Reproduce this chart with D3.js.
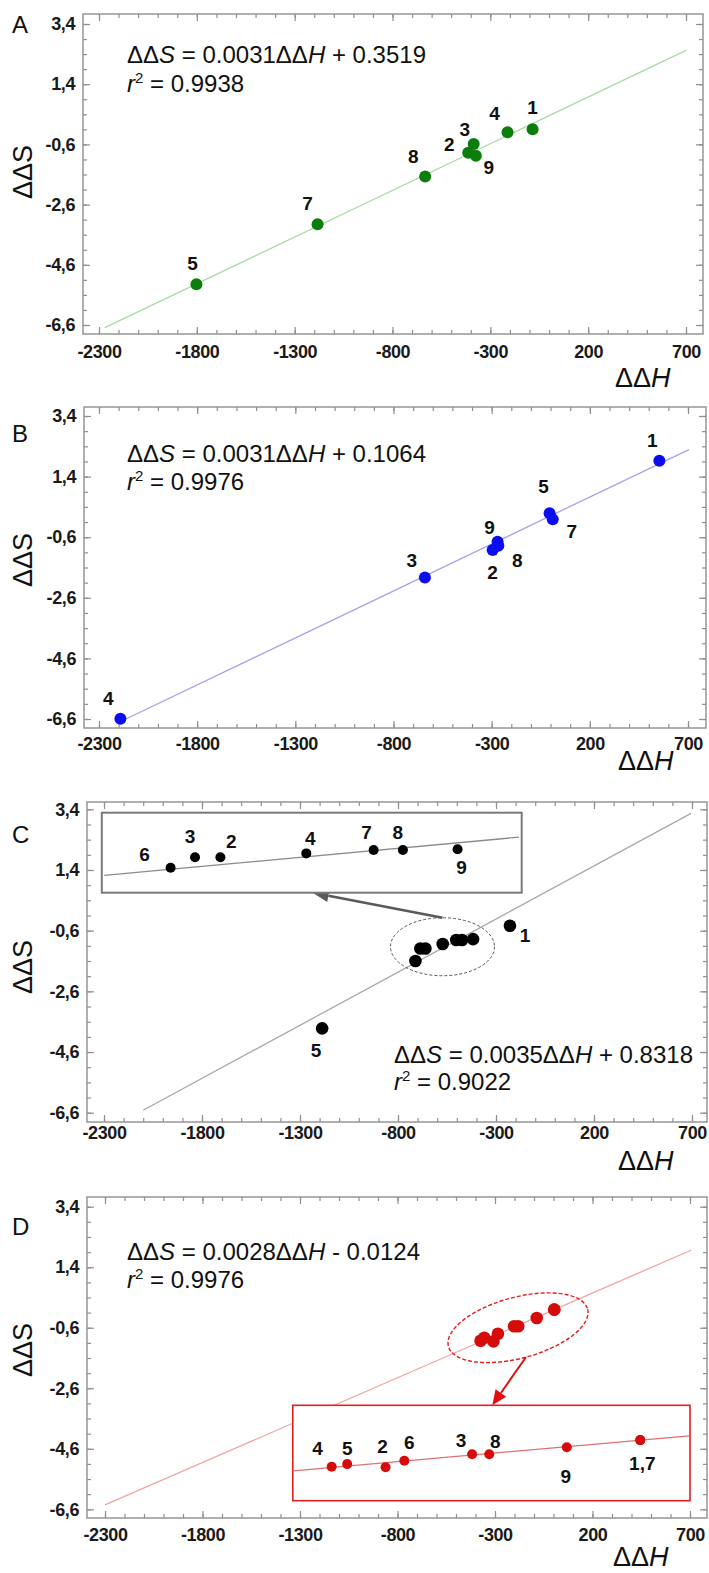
<!DOCTYPE html>
<html>
<head>
<meta charset="utf-8">
<script src="https://cdn.jsdelivr.net/npm/d3@7"></script>
<style>
body { margin: 0; background: #fff; }
svg { display: block; font-family: "Liberation Sans", Arial, sans-serif; }
</style>
</head>
<body>
<svg id="chart"></svg>
<script>
// ---- data ----
var xTicks = [-2300, -1800, -1300, -800, -300, 200, 700];
var yTicks = [3.4, 1.4, -0.6, -2.6, -4.6, -6.6];

var aLabels = ["1", "2", "3", "4", "5", "7", "8", "9"];
var aDH = [-84, -413, -385, -212, -1802, -1183, -633, -374];
var aDS = [-0.10, -0.88, -0.59, -0.20, -5.25, -3.25, -1.67, -0.98];

var bLabels = ["1", "2", "3", "4", "5", "7", "8", "9"];
var bDH = [554, -295, -640, -2191, -5, 11, -266, -270];
var bDS = [1.92, -1.02, -1.93, -6.59, 0.19, -0.01, -0.88, -0.75];

var cLabels = ["1", "2", "3", "4", "5", "6", "7", "8", "9"];
var cDH = [-229, -660, -686, -572, -1187, -711, -503, -473, -417];
var cDS = [-0.44, -1.19, -1.19, -1.04, -3.82, -1.60, -0.91, -0.91, -0.88];

var dLabels = ["1", "2", "3", "4", "5", "6", "7", "8", "9"];
var dDH = [4, -308, -202, -374, -355, -285, 4, -181, -86];
var dDS = [0.00, -1.05, -0.55, -1.03, -0.93, -0.80, 0.00, -0.55, -0.28];
var dInsetText = ["1,7", "2", "3", "4", "5", "6", "", "8", "9"];

var panelNames = ["A", "B", "C", "D"];
var slopes = [0.0031, 0.0031, 0.0035, 0.0028];
var intercepts = [0.3519, 0.1064, 0.8318, -0.0124];
var r2s = [0.9938, 0.9976, 0.9022, 0.9976];
var fitFrom = [-2270, -2195, -2100, -2300];
var fitTo = [700, 705, 695, 705];

// ---- layout ----
var W = 709, H = 1573;
var svg = d3.select("#chart").attr("width", W).attr("height", H);

var frameCol = "#8f8f8f";
var tickFont = 18;

var layouts = [
  { frame: [83, 14, 703, 334], xr: [99, 686], yr: [24, 325], pad: 11,
    pt: "#0a7d0a", ln: "#a8dba3", r: 6,
    eq: [127, 63, 92], letter: 33, ylab: 172, xlab: [615, 387],
    off: { "1": [0, -22], "4": [-13, -19], "3": [-9, -15], "2": [-19, -9], "9": [13, 11],
           "8": [-12, -21], "7": [-10, -21], "5": [-4, -21] } },
  { frame: [84, 407, 706, 728], xr: [99, 688], yr: [416, 719], pad: 9,
    pt: "#0c0cf0", ln: "#a3a3ee", r: 6,
    eq: [127, 462, 490], letter: 442, ylab: 560, xlab: [618, 770],
    off: { "1": [-7, -21], "5": [-6, -27], "7": [19, 12], "9": [-8, -15], "8": [19, 14],
           "2": [0, 22], "3": [-13, -17], "4": [-12, -21] } },
  { frame: [87, 802, 707, 1122], xr: [104, 692], yr: [809.3, 1112.7], pad: 4,
    pt: "#000", ln: "#a8a8a8", r: 6.3,
    eq: [394, 1063, 1090], letter: 843, ylab: 967, xlab: [618, 1170],
    off: { "1": [15, 9], "5": [-6, 22] } },
  { frame: [87, 1197, 707, 1518], xr: [105, 690], yr: [1206.7, 1509.3], pad: 10,
    pt: "#d60c0c", ln: "#f2a5a5", r: 6.3,
    eq: [127, 1260, 1288], letter: 1235, ylab: 1350, xlab: [613, 1566],
    off: {} }
];

var insets = [
  null, null,
  { rect: [101.8, 812.7, 521.7, 892.7], xd: [-781.5, -351.3], yd: [-2.573, 0.546], line: [-779, -354],
    members: ["2", "3", "4", "6", "7", "8", "9"], border: "#7a7a7a", bw: 2, r: 5, lineCol: "#8a8a8a",
    off: { "6": [-26, -14], "3": [-5, -21], "2": [11, -16], "4": [4, -15], "7": [-7, -18],
           "8": [-5, -18], "9": [4, 18] },
    ellipse: { c: [-573, -1.13], rx: 52, ry: 29, rot: 0, col: "#555", w: 1, dash: "3,2" },
    arrow: { tip: [312.7, 892.7], col: "#5a5a5a", w: 2.5, head: [16, 6.5], from: -1 } },
  { rect: [292.8, 1405.3, 690, 1500.7], xd: [-421.6, 64.9], yd: [-2.349, 1.349], line: [-421, 64],
    members: dLabels, border: "#e02020", bw: 1.6, r: 5, lineCol: "#e07070", text: dInsetText,
    off: { "4": [-14, -19], "5": [0, -16], "2": [-3, -21], "6": [5, -19], "3": [-11, -14],
           "8": [6, -13], "9": [-1, 29], "1": [2, 23] },
    ellipse: { c: [-182, -0.6], rx: 72, ry: 30.5, rot: -15, col: "#e02020", w: 1.4, dash: "4,2" },
    arrow: { tip: [492.3, 1405.3], col: "#e01010", w: 2, head: [15, 6.5], from: 1 } }
];

var datasets = [
  { labels: aLabels, dh: aDH, ds: aDS },
  { labels: bLabels, dh: bDH, ds: bDS },
  { labels: cLabels, dh: cDH, ds: cDS },
  { labels: dLabels, dh: dDH, ds: dDS }
];

var xMinor = d3.range(0, 31).map(function(i) { return -2300 + i * 100; });
var yMinor = d3.range(0, 21).map(function(i) { return +(-6.6 + i * 0.5).toFixed(1); });

function fmtY(d) { return d.toFixed(1).replace(".", ","); }

function styleAxis(sel) {
  sel.select(".domain").remove();
  sel.selectAll("line").attr("stroke", frameCol).attr("stroke-width", 1.2);
  sel.selectAll("text").attr("font-size", tickFont).attr("font-weight", "bold")
    .attr("fill", "#1a1a1a").attr("font-family", "Liberation Sans, Arial, sans-serif")
    .attr("letter-spacing", -0.4);
}

function equation(g, x, y1, y2, i) {
  var t = g.append("text").attr("x", x).attr("y", y1).attr("font-size", 24).attr("fill", "#111");
  var sign = intercepts[i] < 0 ? " - " : " + ";
  t.append("tspan").text("ΔΔ");
  t.append("tspan").attr("font-style", "italic").text("S");
  t.append("tspan").text(" = " + slopes[i].toFixed(4) + "ΔΔ");
  t.append("tspan").attr("font-style", "italic").text("H");
  t.append("tspan").text(sign + Math.abs(intercepts[i]).toFixed(4));

  var t2 = g.append("text").attr("x", x).attr("y", y2).attr("font-size", 24).attr("fill", "#111");
  t2.append("tspan").attr("font-style", "italic").text("r");
  t2.append("tspan").attr("font-size", 15).attr("dy", -9).text("2");
  t2.append("tspan").attr("dy", 9).text(" = " + r2s[i].toFixed(4));
}

function drawPoints(g, pts, xs, ys, r, col) {
  g.selectAll(null).data(pts).enter().append("circle")
    .attr("cx", function(d) { return xs(d.dh); })
    .attr("cy", function(d) { return ys(d.ds); })
    .attr("r", r)
    .attr("fill", col);
}

function drawLabels(g, pts, xs, ys, off, textOf) {
  g.selectAll(null).data(pts.filter(function(d) { return off[d.label] && textOf(d) !== ""; }))
    .enter().append("text")
    .attr("x", function(d) { return xs(d.dh) + off[d.label][0]; })
    .attr("y", function(d) { return ys(d.ds) + off[d.label][1] + 7; })
    .attr("text-anchor", "middle")
    .attr("font-size", 19).attr("font-weight", "bold").attr("fill", "#111")
    .text(textOf);
}

function arrow(g, tail, tip, a) {
  var dx = tip[0] - tail[0], dy = tip[1] - tail[1];
  var len = Math.sqrt(dx * dx + dy * dy), ux = dx / len, uy = dy / len;
  var L = a.head[0], hw = a.head[1];
  var bx = tip[0] - ux * L, by = tip[1] - uy * L;
  g.append("line").attr("x1", tail[0]).attr("y1", tail[1]).attr("x2", bx).attr("y2", by)
    .attr("stroke", a.col).attr("stroke-width", a.w);
  g.append("path")
    .attr("d", "M" + tip[0] + "," + tip[1] +
      "L" + (bx - uy * hw) + "," + (by + ux * hw) +
      "L" + (bx + uy * hw) + "," + (by - ux * hw) + "Z")
    .attr("fill", a.col);
}

layouts.forEach(function(L, i) {
  var g = svg.append("g");
  var f = L.frame;
  var x = d3.scaleLinear().domain([-2300, 700]).range(L.xr);
  var y = d3.scaleLinear().domain([3.4, -6.6]).range(L.yr);
  var ds = datasets[i];
  var pts = ds.labels.map(function(l, k) { return { label: l, dh: ds.dh[k], ds: ds.ds[k], k: k }; });

  // ticks, all pointing inward
  g.append("g").attr("transform", "translate(0," + f[3] + ")")
    .call(d3.axisBottom(x).tickValues(xMinor).tickSize(-4).tickFormat("")).call(styleAxis);
  g.append("g").attr("transform", "translate(0," + f[3] + ")")
    .call(d3.axisBottom(x).tickValues(xTicks).tickSize(-7).tickPadding(L.pad).tickFormat(String)).call(styleAxis);
  g.append("g").attr("transform", "translate(0," + f[1] + ")")
    .call(d3.axisTop(x).tickValues(xMinor).tickSize(-4).tickFormat("")).call(styleAxis);
  g.append("g").attr("transform", "translate(0," + f[1] + ")")
    .call(d3.axisTop(x).tickValues(xTicks).tickSize(-7).tickFormat("")).call(styleAxis);
  g.append("g").attr("transform", "translate(" + f[0] + ",0)")
    .call(d3.axisLeft(y).tickValues(yMinor).tickSize(-4).tickFormat("")).call(styleAxis);
  g.append("g").attr("transform", "translate(" + f[0] + ",0)")
    .call(d3.axisLeft(y).tickValues(yTicks).tickSize(-7).tickPadding(8).tickFormat(fmtY)).call(styleAxis);
  g.append("g").attr("transform", "translate(" + f[2] + ",0)")
    .call(d3.axisRight(y).tickValues(yMinor).tickSize(-4).tickFormat("")).call(styleAxis);
  g.append("g").attr("transform", "translate(" + f[2] + ",0)")
    .call(d3.axisRight(y).tickValues(yTicks).tickSize(-7).tickFormat("")).call(styleAxis);

  g.append("rect").attr("x", f[0]).attr("y", f[1])
    .attr("width", f[2] - f[0]).attr("height", f[3] - f[1])
    .attr("fill", "none").attr("stroke", frameCol).attr("stroke-width", 1.4);

  // regression line
  var fit = function(v) { return slopes[i] * v + intercepts[i]; };
  g.append("line")
    .attr("x1", x(fitFrom[i])).attr("y1", y(fit(fitFrom[i])))
    .attr("x2", x(fitTo[i])).attr("y2", y(fit(fitTo[i])))
    .attr("stroke", L.ln).attr("stroke-width", 1.3);

  drawPoints(g, pts, x, y, L.r, L.pt);
  drawLabels(g, pts, x, y, L.off, function(d) { return d.label; });

  // inset + annotation
  var ins = insets[i];
  if (ins) {
    var e = ins.ellipse;
    var ecx = x(e.c[0]), ecy = y(e.c[1]);
    g.append("ellipse").attr("cx", 0).attr("cy", 0).attr("rx", e.rx).attr("ry", e.ry)
      .attr("transform", "translate(" + ecx + "," + ecy + ") rotate(" + e.rot + ")")
      .attr("fill", "none").attr("stroke", e.col).attr("stroke-width", e.w)
      .attr("stroke-dasharray", e.dash);

    var a = e.rot * Math.PI / 180, s = ins.arrow.from;
    var tail = [ecx - Math.sin(a) * e.ry * s, ecy + Math.cos(a) * e.ry * s];
    arrow(g, tail, ins.arrow.tip, ins.arrow);

    var rc = ins.rect;
    g.append("rect").attr("x", rc[0]).attr("y", rc[1]).attr("width", rc[2] - rc[0]).attr("height", rc[3] - rc[1])
      .attr("fill", "#fff").attr("stroke", ins.border).attr("stroke-width", ins.bw);
    var ix = d3.scaleLinear().domain(ins.xd).range([rc[0], rc[2]]);
    var iy = d3.scaleLinear().domain(ins.yd).range([rc[3], rc[1]]);
    g.append("line")
      .attr("x1", ix(ins.line[0])).attr("y1", iy(fit(ins.line[0])))
      .attr("x2", ix(ins.line[1])).attr("y2", iy(fit(ins.line[1])))
      .attr("stroke", ins.lineCol).attr("stroke-width", 1.3);
    var ipts = pts.filter(function(d) { return ins.members.indexOf(d.label) >= 0; });
    drawPoints(g, ipts, ix, iy, ins.r, L.pt);
    drawLabels(g, ipts, ix, iy, ins.off, function(d) { return ins.text ? ins.text[d.k] : d.label; });
  }

  equation(g, L.eq[0], L.eq[1], L.eq[2], i);

  // panel letter
  g.append("text").attr("x", 12).attr("y", L.letter).attr("font-size", 24).attr("fill", "#111").text(panelNames[i]);

  // axis titles
  g.append("text").attr("transform", "translate(32," + L.ylab + ") rotate(-90)")
    .attr("text-anchor", "middle").attr("font-size", 27).attr("fill", "#111")
    .text("ΔΔS");
  var xt = g.append("text").attr("x", L.xlab[0]).attr("y", L.xlab[1]).attr("font-size", 27).attr("fill", "#111");
  xt.append("tspan").text("ΔΔ");
  xt.append("tspan").attr("font-style", "italic").text("H");
});
</script>
</body>
</html>
